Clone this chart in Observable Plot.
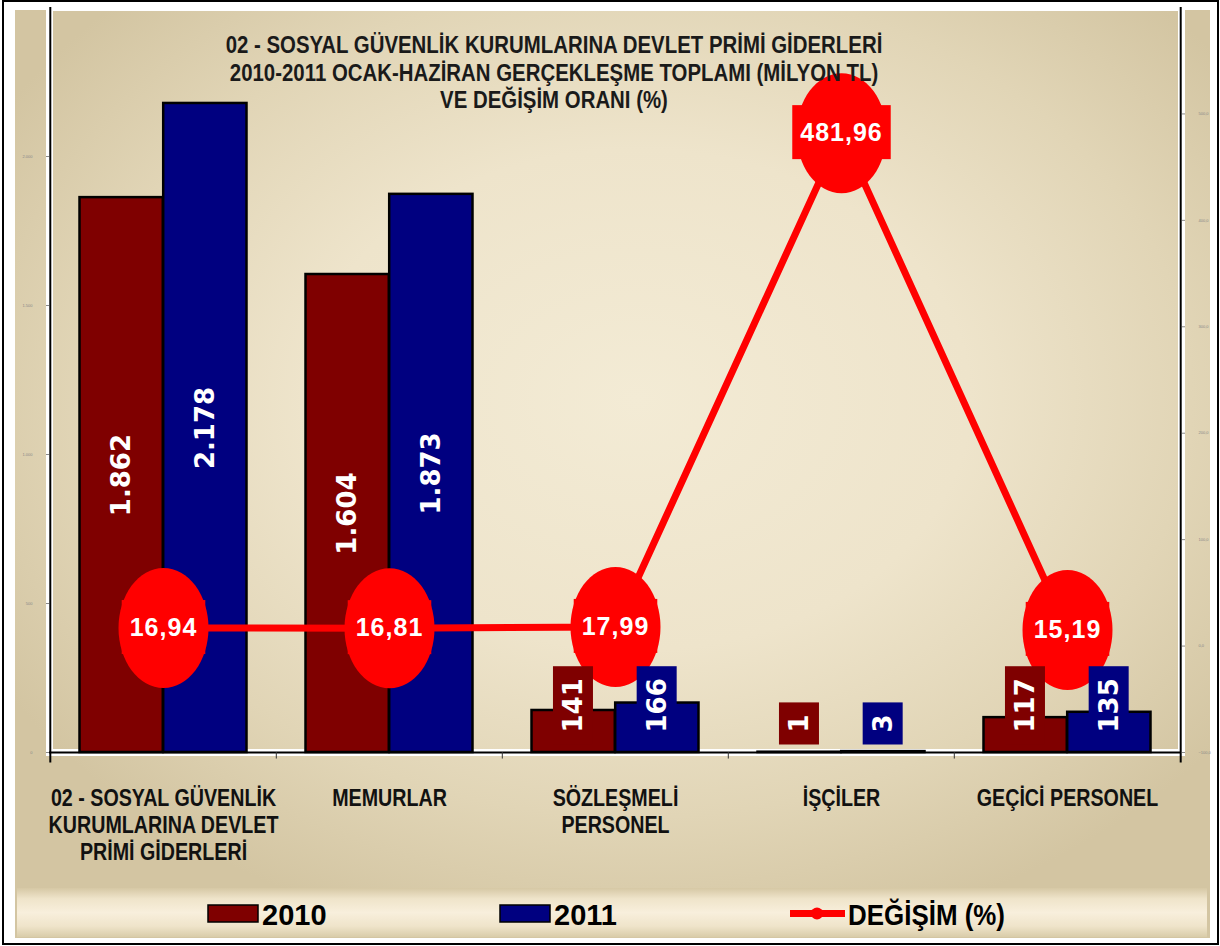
<!DOCTYPE html>
<html>
<head>
<meta charset="utf-8">
<script src="https://cdn.jsdelivr.net/npm/d3@7"></script>
<script src="https://cdn.jsdelivr.net/npm/@observablehq/plot@0.6"></script>
<style>
  html, body { margin: 0; padding: 0; background: #fff; }
  #wrap { position: relative; width: 1220px; height: 946px; overflow: hidden; }
  #frame { position: absolute; left: 2px; top: 0px; width: 1217px; height: 945px; border: 2px solid #000; box-sizing: border-box; }
  #bg { position: absolute; left: 15px; top: 10px; width: 1195px; height: 928px;
        background: radial-gradient(ellipse 62% 60% at 52% 42%, #f3ebd5 0%, #eee4cb 45%, #e1d5b6 75%, #d3c5a2 100%); }
  #legendband { position: absolute; left: 17px; top: 888px; width: 1190px; height: 49px;
        background: linear-gradient(to bottom, #d6c8a5 0%, #efe4ca 22%, #f8efdc 50%, #efe4ca 78%, #d9cca9 100%); }
  #chart { position: absolute; left: 0; top: 0; }
  #title { position: absolute; left: 154px; top: 31px; width: 800px; text-align: center;
           font-family: "Liberation Sans", Arial, sans-serif; font-weight: bold; font-size: 24px; line-height: 27.5px; color: #1a1a1a; white-space: nowrap; }
  #title div { transform: scaleX(0.85); transform-origin: 50% 50%; }
  #legend { position: absolute; left: 0; top: 888px; }
</style>
</head>
<body>
<div id="wrap">
  <div id="frame"></div>
  <div id="bg"></div>
  <div id="legendband"></div>
  <div id="chart"></div>
  <div id="title"></div>
  <div id="legend"></div>
</div>
<script>
// ---------------- data ----------------
const titleLines = [
  "02 - SOSYAL  GÜVENLİK KURUMLARINA DEVLET PRİMİ GİDERLERİ",
  "2010-2011 OCAK-HAZİRAN GERÇEKLEŞME TOPLAMI (MİLYON TL)",
  "VE DEĞİŞİM ORANI (%)"
];
const categories = [
  "02 - SOSYAL GÜVENLİK\nKURUMLARINA DEVLET\nPRİMİ GİDERLERİ",
  "MEMURLAR",
  "SÖZLEŞMELİ\nPERSONEL",
  "İŞÇİLER",
  "GEÇİCİ PERSONEL"
];
const values2010 = [1862, 1604, 141, 1, 117];
const values2011 = [2178, 1873, 166, 3, 135];
const changePct = [16.94, 16.81, 17.99, 481.96, 15.19];
const seriesNames = ["2010", "2011"];
const lineName = "DEĞİŞİM (%)";
const leftTicks = [0, 500, 1000, 1500, 2000];
const leftDomain = [0, 2500];
const rightTicks = [-100, 0, 100, 200, 300, 400, 500];
const rightDomain = [-100, 600];

// ---------------- styles ----------------
const color2010 = "#7f0000";
const color2011 = "#000080";
const colorLine = "#ff0000";

const tr = d3.formatLocale({decimal: ",", thousands: ".", grouping: [3], currency: ["", " TL"]});
const fmtInt = tr.format(",d");
const fmtPct = tr.format(",.2f");
const fmt1 = tr.format(",.1f");

// secondary axis mapping into the primary (left) scale units
const toLeft = v => leftDomain[0] + (v - rightDomain[0]) * (leftDomain[1] - leftDomain[0]) / (rightDomain[1] - rightDomain[0]);
const fromLeft = u => rightDomain[0] + (u - leftDomain[0]) * (rightDomain[1] - rightDomain[0]) / (leftDomain[1] - leftDomain[0]);

const rows = categories.map((c, i) => ({cat: c, v2010: values2010[i], v2011: values2011[i], pct: changePct[i]}));

const W = 1220, H = 946, mL = 49, mR = 39, mT = 7, mB = 194;
const step = (W - mL - mR) / categories.length;
const outerPad = 29.5;
const barW = (step - 2 * outerPad) / 2;

const ellipse = {
  draw(ctx, size) {
    const ry = Math.sqrt(size / Math.PI), rx = ry * 0.75, k = 0.5523;
    ctx.moveTo(rx, 0);
    ctx.bezierCurveTo(rx, ry * k, rx * k, ry, 0, ry);
    ctx.bezierCurveTo(-rx * k, ry, -rx, ry * k, -rx, 0);
    ctx.bezierCurveTo(-rx, -ry * k, -rx * k, -ry, 0, -ry);
    ctx.bezierCurveTo(rx * k, -ry, rx, -ry * k, rx, 0);
    ctx.closePath();
  }
};

const barFont = "DejaVu Sans";
const sans = "Liberation Sans, Arial, sans-serif";
const bigThreshold = 500;

const plot = Plot.plot({
  width: W, height: H,
  marginLeft: mL, marginRight: mR, marginTop: mT, marginBottom: mB,
  style: {background: "transparent", fontFamily: sans, overflow: "visible"},
  x: {type: "band", domain: categories, padding: 0, label: null},
  y: {domain: leftDomain, label: null},
  marks: [
    Plot.frame({stroke: "#fff", strokeWidth: 7}),
    // bars
    Plot.barY(rows, {x: "cat", y: "v2010", fill: color2010, stroke: "#000", strokeWidth: 2.5,
      insetLeft: outerPad, insetRight: step - outerPad - barW}),
    Plot.barY(rows, {x: "cat", y: "v2011", fill: color2011, stroke: "#000", strokeWidth: 2.5,
      insetLeft: outerPad + barW, insetRight: outerPad}),
    // axes lines
    Plot.ruleY([0], {stroke: "#000", strokeWidth: 2}),
    Plot.ruleX([categories[0]], {dx: -step / 2, y1: -35, y2: leftDomain[1], stroke: "#000", strokeWidth: 2}),
    Plot.ruleX([categories[categories.length - 1]], {dx: step / 2, y1: -35, y2: leftDomain[1], stroke: "#000", strokeWidth: 2}),
    Plot.ruleX(categories.slice(1), {dx: -step / 2, y1: -22, y2: 0, stroke: "#333", strokeWidth: 1}),
    Plot.axisY({anchor: "left", ticks: leftTicks, tickFormat: fmtInt, fontSize: 4, tickSize: 3, tickPadding: 14, color: "#888", label: null}),
    Plot.axisY({anchor: "right", ticks: rightTicks.map(toLeft), tickFormat: d => fmt1(Math.round(fromLeft(d))), fontSize: 4, tickSize: 3, tickPadding: 14, color: "#888", label: null}),
    Plot.axisX({tickSize: 0, tickPadding: 34, fontSize: 24, fontWeight: "bold", fontFamily: sans, lineHeight: 1.13, color: "#111", label: null}),
    // change line + ellipses
    Plot.line(rows, {x: "cat", y: d => toLeft(d.pct), stroke: colorLine, strokeWidth: 7}),
    Plot.dot(rows, {x: "cat", y: d => toLeft(d.pct), r: 60, symbol: ellipse, fill: colorLine, stroke: "none"}),
    Plot.text(rows, {x: "cat", y: d => toLeft(d.pct), text: d => fmtPct(d.pct), fill: "#fff", fontSize: 25, fontWeight: "bold", fontFamily: sans}),
    // big bar labels (inside, rotated)
    Plot.text(rows, {filter: d => d.v2010 >= bigThreshold, x: "cat", y: d => d.v2010 / 2, dx: -barW / 2, text: d => fmtInt(d.v2010), rotate: -90, fill: "#fff", fontSize: 26, fontWeight: "bold", fontFamily: barFont}),
    Plot.text(rows, {filter: d => d.v2011 >= bigThreshold, x: "cat", y: d => d.v2011 / 2, dx: barW / 2, text: d => fmtInt(d.v2011), rotate: -90, fill: "#fff", fontSize: 26, fontWeight: "bold", fontFamily: barFont}),
    // small bar labels (boxed, rotated)
    Plot.text(rows, {filter: d => d.v2010 < bigThreshold, x: "cat", y: 0, dx: -barW / 2, dy: -20, textAnchor: "start", text: d => fmtInt(d.v2010), rotate: -90, fill: "#fff", fontSize: 26, fontWeight: "bold", fontFamily: barFont}),
    Plot.text(rows, {filter: d => d.v2011 < bigThreshold, x: "cat", y: 0, dx: barW / 2, dy: -20, textAnchor: "start", text: d => fmtInt(d.v2011), rotate: -90, fill: "#fff", fontSize: 26, fontWeight: "bold", fontFamily: barFont})
  ]
});

document.getElementById("chart").appendChild(plot);

const NS = "http://www.w3.org/2000/svg";

// letter spacing on ellipse labels
const textGroups = [...plot.querySelectorAll('g[aria-label="text"]')];
if (textGroups[0]) textGroups[0].setAttribute("letter-spacing", "1");

// background boxes behind label texts
function addBoxes(group, fill, padAlong, padCross) {
  if (!group) return;
  for (const t of group.querySelectorAll("text")) {
    const b = t.getBBox();
    const r = document.createElementNS(NS, "rect");
    r.setAttribute("x", b.x - padAlong);
    r.setAttribute("y", b.y - padCross);
    r.setAttribute("width", b.width + 2 * padAlong);
    r.setAttribute("height", b.height + 2 * padCross);
    r.setAttribute("fill", fill);
    r.setAttribute("stroke", "none");
    const tf = t.getAttribute("transform");
    if (tf) r.setAttribute("transform", tf);
    t.parentNode.insertBefore(r, t);
  }
}
addBoxes(textGroups[0], colorLine, 8, 13);
addBoxes(textGroups[3], color2010, 12, 5);
addBoxes(textGroups[4], color2011, 12, 5);

// condensed category labels
for (const t of plot.querySelectorAll('g[aria-label="x-axis tick label"] text')) {
  const tf = t.getAttribute("transform");
  if (tf) {
    t.setAttribute("transform", tf + " scale(0.82,1)");
  } else {
    const x = +t.getAttribute("x") || 0, y = +t.getAttribute("y") || 0;
    t.removeAttribute("x"); t.removeAttribute("y");
    t.setAttribute("transform", `translate(${x},${y}) scale(0.82,1)`);
  }
}

// title
const titleDiv = document.getElementById("title");
titleLines.forEach(l => { const d = document.createElement("div"); d.textContent = l; titleDiv.appendChild(d); });

// legend
const leg = d3.select("#legend").append("svg").attr("width", W).attr("height", 50)
  .style("font-family", sans).style("font-weight", "bold").style("font-size", "29px");
const legItems = [
  {type: "box", name: seriesNames[0], color: color2010, x: 208},
  {type: "box", name: seriesNames[1], color: color2011, x: 500},
  {type: "line", name: lineName, color: colorLine, x: 790, len: 157}
];
for (const it of legItems) {
  if (it.type === "box") {
    leg.append("rect").attr("x", it.x).attr("y", 17).attr("width", 50).attr("height", 17)
      .attr("fill", it.color).attr("stroke", "#000").attr("stroke-width", 1.5);
    leg.append("text").attr("x", it.x + 54).attr("y", 37).attr("fill", "#000").text(it.name);
  } else {
    leg.append("line").attr("x1", it.x).attr("x2", it.x + 55).attr("y1", 25.5).attr("y2", 25.5)
      .attr("stroke", it.color).attr("stroke-width", 7);
    leg.append("circle").attr("cx", it.x + 27).attr("cy", 25.5).attr("r", 6).attr("fill", it.color);
    leg.append("text").attr("x", it.x + 58).attr("y", 37).attr("fill", "#000")
      .attr("textLength", it.len).attr("lengthAdjust", "spacingAndGlyphs").text(it.name);
  }
}
</script>
</body>
</html>
